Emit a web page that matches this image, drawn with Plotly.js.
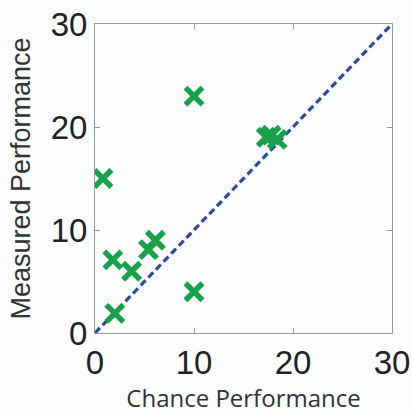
<!DOCTYPE html>
<html><head><meta charset="utf-8">
<script src="https://cdn.plot.ly/plotly-3.0.1.min.js"></script>
<style>html,body{margin:0;padding:0;background:#fbfcfd}</style>
</head><body>
<div id="chart" style="width:412px;height:415px"></div>
<script>
const chanceX = [10, 17.3, 17.8, 18.4, 0.8, 1.8, 3.7, 5.4, 6.1, 10, 2.0];
const measuredY = [23, 19, 19.2, 18.8, 15, 7.1, 6, 8.1, 9, 4, 1.9];
const diagX = [0, 30];
const diagY = [0, 30];
const tickVals = [0, 10, 20, 30];

const data = [
  {x: diagX, y: diagY, mode: 'lines', type: 'scatter',
   line: {color: '#2b4aa3', width: 3.2, dash: '7px,4px'}, hoverinfo: 'skip'},
  {x: chanceX, y: measuredY, mode: 'markers', type: 'scatter',
   marker: {symbol: 'x-thin', size: 17, line: {color: '#17a24a', width: 5.5}}}
];
const axisBase = {
  range: [0, 30], tickvals: tickVals, ticks: 'inside', ticklen: 5, tickcolor: '#999',
  showline: true, linecolor: '#999', linewidth: 1, mirror: 'ticks', showgrid: false,
  zeroline: false, automargin: false,
  tickfont: {family: 'Liberation Sans, Arial, sans-serif', size: 33, color: '#222'}
};
const layout = {
  width: 412, height: 415,
  margin: {l: 95, r: 20, t: 24, b: 82},
  paper_bgcolor: '#fbfcfd', plot_bgcolor: '#fbfcfd',
  showlegend: false,
  xaxis: Object.assign({}, axisBase, {
    title: {text: 'Chance Performance', font: {family: 'Open Sans, sans-serif', size: 24, color: '#333'}, standoff: 10}
  }),
  yaxis: Object.assign({}, axisBase, {
    title: {text: 'Measured Performance', font: {family: 'Liberation Sans, Arial, sans-serif', size: 27, color: '#333'}, standoff: 12}
  })
};
Plotly.newPlot('chart', data, layout, {displayModeBar: false, staticPlot: true});
</script>
</body></html>
